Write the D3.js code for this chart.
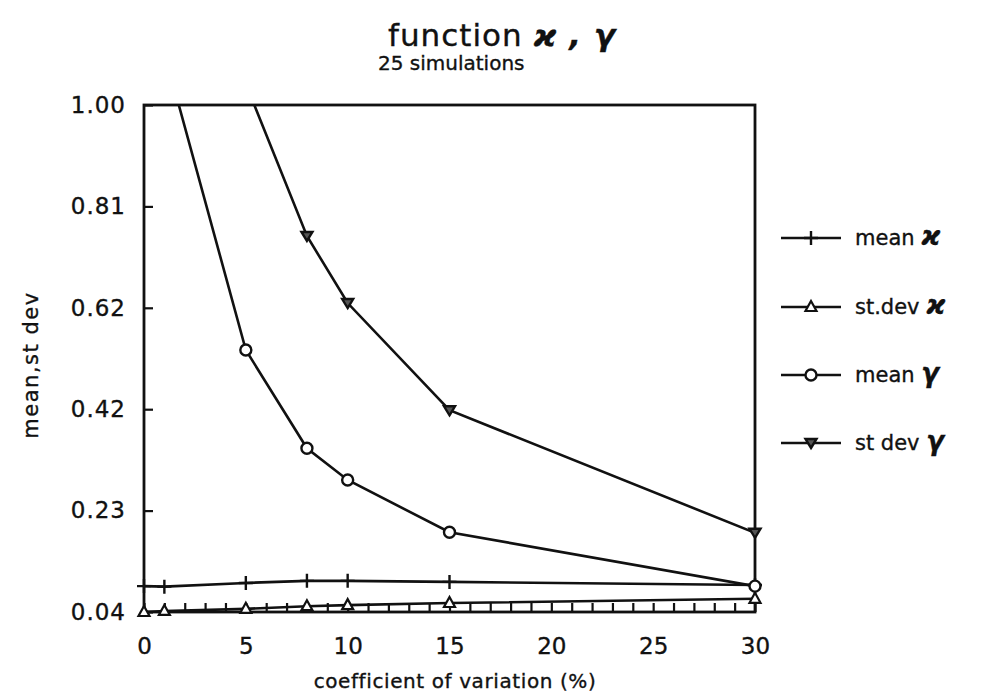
<!DOCTYPE html>
<html>
<head>
<meta charset="utf-8">
<script src="https://cdn.jsdelivr.net/npm/d3@7"></script>
<style>
  body { margin: 0; background: #fff; }
  text { font-family: "DejaVu Sans", sans-serif; fill: #111; stroke: #111; stroke-width: 0.35px; }
</style>
</head>
<body>
<div id="chart"></div>
<script>
// coefficient of variation (%)
const cvValues = [0, 1, 5, 8, 10, 15, 30];
const meanKappa = [0.089, 0.088, 0.095, 0.099, 0.099, 0.097, 0.091];
const sdKappa = [0.040, 0.042, 0.046, 0.051, 0.053, 0.057, 0.065];
const meanGamma = [null, 1.10, 0.536, 0.350, 0.290, 0.191, 0.089];
const sdGamma = [null, null, 1.04, 0.752, 0.625, 0.422, 0.190];

const xTicks = [0, 5, 10, 15, 20, 25, 30];
const xMinorTicks = d3.range(0, 31, 1);
const yTicks = [0.04, 0.232, 0.424, 0.616, 0.808, 1.00];
const yTickLabels = ["0.04", "0.23", "0.42", "0.62", "0.81", "1.00"];
const seriesNames = ["mean", "st.dev", "mean", "st dev"];
const seriesSymbols = ["ϰ", "ϰ", "γ", "γ"];

const W = 982, H = 694;
const margin = { top: 105, right: 227, bottom: 82, left: 144 };
const width = W - margin.left - margin.right;
const height = H - margin.top - margin.bottom;

const svg = d3.select("#chart").append("svg")
    .attr("width", W)
    .attr("height", H);

const g = svg.append("g")
    .attr("transform", `translate(${margin.left},${margin.top})`);

const x = d3.scaleLinear().domain([0, 30]).range([0, width]);
const y = d3.scaleLinear().domain([0.04, 1.00]).range([height, 0]);

// clip the curves to the plot box
svg.append("defs").append("clipPath").attr("id", "plotClip")
    .append("rect").attr("width", width).attr("height", height);

// axes with inward ticks
g.append("g")
    .attr("transform", `translate(0,${height})`)
    .call(d3.axisBottom(x).tickValues(xMinorTicks).tickSize(-9).tickFormat(""))
    .call(a => a.select(".domain").remove())
    .selectAll("line").attr("stroke", "#111").attr("stroke-width", 2.2);

g.append("g")
    .attr("transform", `translate(0,${height})`)
    .call(d3.axisBottom(x).tickValues(xTicks).tickSize(0).tickPadding(26))
    .call(a => a.select(".domain").remove())
    .selectAll("text").style("font-size", "23px").attr("fill", "#111");

g.append("g")
    .call(d3.axisLeft(y).tickValues(yTicks).tickSize(-9).tickPadding(18)
        .tickFormat((d, i) => yTickLabels[i]))
    .call(a => a.select(".domain").remove())
    .call(a => a.selectAll("line").attr("stroke", "#111").attr("stroke-width", 2.2))
    .selectAll("text").style("font-size", "23px").style("letter-spacing", "1px").attr("fill", "#111");

// frame
g.append("rect")
    .attr("width", width).attr("height", height)
    .attr("fill", "none").attr("stroke", "#111").attr("stroke-width", 2.8);

const series = [meanKappa, sdKappa, meanGamma, sdGamma];
const markers = ["plus", "tri", "circle", "tridown"];

function drawMarker(sel, type) {
    if (type === "plus") {
        sel.append("path").attr("d", "M-7,0H7M0,-7V7")
            .attr("stroke", "#111").attr("stroke-width", 2.4).attr("fill", "none");
    } else if (type === "tri") {
        sel.append("path").attr("d", "M0,-6L5.5,4H-5.5Z")
            .attr("stroke", "#111").attr("stroke-width", 2.2).attr("fill", "#fff");
    } else if (type === "tridown") {
        sel.append("path").attr("d", "M0,5L5.5,-4H-5.5Z")
            .attr("stroke", "#111").attr("stroke-width", 2.4).attr("fill", "#555");
    } else {
        sel.append("circle").attr("r", 5.5)
            .attr("stroke", "#111").attr("stroke-width", 2.4).attr("fill", "#fff");
    }
}

const line = d3.line()
    .defined(d => d[1] != null)
    .x(d => x(d[0]))
    .y(d => y(d[1]));

series.forEach((vals, k) => {
    const pts = cvValues.map((c, i) => [c, vals[i]]);
    g.append("path")
        .datum(pts)
        .attr("clip-path", "url(#plotClip)")
        .attr("d", line)
        .attr("fill", "none")
        .attr("stroke", "#111")
        .attr("stroke-width", 2.6);
    pts.filter(p => p[1] != null && p[1] <= 1.0).forEach(p => {
        const m = g.append("g").attr("transform", `translate(${x(p[0])},${y(p[1])})`);
        drawMarker(m, markers[k]);
    });
});

// legend
const legendY = [238, 307, 375, 443];
seriesNames.forEach((name, k) => {
    const lg = svg.append("g").attr("transform", `translate(781,${legendY[k]})`);
    lg.append("line").attr("x1", 0).attr("x2", 60)
        .attr("stroke", "#111").attr("stroke-width", 2.6);
    drawMarker(lg.append("g").attr("transform", "translate(30,0)"), markers[k]);
    const t = lg.append("text").attr("x", 74).attr("y", 7).style("font-size", "21px");
    t.append("tspan").text(name + (k === 1 ? " " : "  "));
    t.append("tspan").text(seriesSymbols[k])
        .style("font-weight", "bold").style("font-style", "italic").style("font-size", "26px");
});

// titles
const title = svg.append("text").attr("x", 388).attr("y", 46).style("font-size", "31px")
    .style("letter-spacing", "1px");
title.append("tspan").text("function ");
title.append("tspan").text("ϰ , γ").style("font-weight", "bold").style("font-style", "italic");

svg.append("text").attr("x", 378).attr("y", 70).style("font-size", "20px")
    .text("25 simulations");

svg.append("text")
    .attr("x", 455)
    .attr("y", 688)
    .attr("text-anchor", "middle")
    .style("font-size", "20px")
    .style("letter-spacing", "0.6px")
    .text("coefficient of variation (%)");

svg.append("text")
    .attr("transform", "rotate(-90)")
    .attr("x", -365)
    .attr("y", 38)
    .attr("text-anchor", "middle")
    .style("font-size", "21px")
    .style("letter-spacing", "1.5px")
    .text("mean,st dev");
</script>
</body>
</html>
